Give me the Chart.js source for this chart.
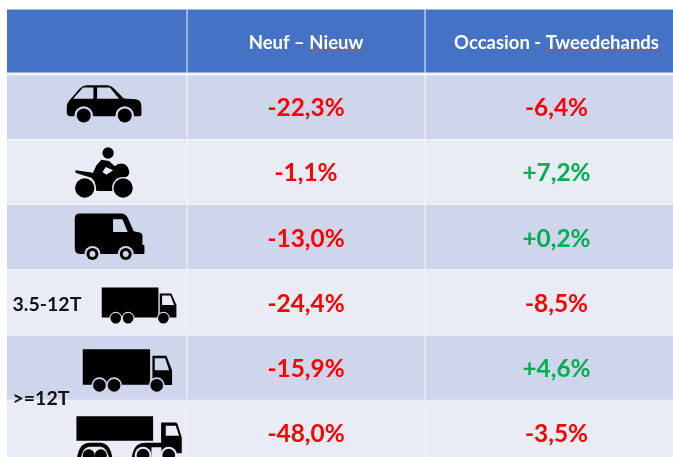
<!DOCTYPE html>
<html><head><meta charset="utf-8">
<style>html,body{margin:0;padding:0;background:#fff;overflow:hidden}#w{width:673px;height:457px;position:relative}canvas{filter:blur(.45px)}</style>
<script src="https://cdn.jsdelivr.net/npm/chart.js@4"></script></head>
<body><div id="w"><canvas id="c"></canvas></div>
<script>
const vehicles = ['car','moto','van','truckSmall','truckMedium','truckLarge'];
const columnHeaders = ['Neuf – Nieuw','Occasion - Tweedehands'];
const headerUnderlined = ['Nieuw','Tweedehands'];
const neuf = [-22.3,-1.1,-13.0,-24.4,-15.9,-48.0];
const occasion = [-6.4,7.2,0.2,-8.5,4.6,-3.5];
const weightLabels = [{text:'3.5-12T',row:4.04},{text:'>=12T',row:5.47}];

// table layout (not data)
const columnEdges = [0,180.5,418.5,681.5];
const X_LEFT = 6.5;
const HEAD='#4472C4', DARK='#CFD5EA', LIGHT='#E9EBF5', SEP='#F4F5FA', RED='#FF0000', GREEN='#00B050';
const FONT='Lato, "Open Sans", sans-serif';
const rowColor = r => r===0 ? HEAD : (r%2 ? DARK : LIGHT);
const rows = [0,...vehicles.map((_,i)=>i+1)];
const columnData = c => rows.map(r=>({x:[columnEdges[c],columnEdges[c+1]],y:r}));

// icons: glyph paths in 3x units; o = glyph anchor that sits on the cell centre
const icons = {
 car:{o:[291,320],paths:[
  ['k','M201 322 C201 310 206 303 214 295 L240 265 Q250 255 262 255 L322 255 Q333 255 342 264 L372 295 L408 297 Q425 299 425 318 L425 343 Q425 348 420 348 L212 348 Q201 348 201 336 Z'],
  ['b','M220 296 L250 262 L281 262 L281 296 Z M292 262 L330 262 L358 296 L292 296 Z'],
  ['r',[252,346,28],[375,346,28]],['w',[252,346,21],[375,346,21]]]},
 moto:{o:[111,95],paths:[
  ['k','M47 90 L100 97 L110 75 L125 58 L148 62 L165 78 Q180 64 195 72 Q210 82 208 100 Q204 115 170 115 L160 152 L110 152 L105 125 L95 112 L70 105 L47 97 Z'],
  ['b','M128 95 L138 80 L160 90 L140 103 Z'],
  ['r',[75,143,33],[190,143,33]],['w',[75,143,29],[190,143,29],[145,38,17]]]},
 van:{o:[111,96],paths:[
  ['k','M45 40 Q45 25 60 25 L185 25 Q198 25 205 40 L222 78 L240 82 Q248 84 248 90 L248 118 L254 120 L254 143 Q254 146 250 146 L60 146 Q45 146 45 130 Z'],
  ['b','M160 42 L188 42 L204 80 L160 80 Z'],
  ['r',[98,146,24],[198,146,24]],['w',[98,146,18],[198,146,18]],['r',[98,146,9],[198,146,9]]]},
 truckSmall:{o:[291,127],paths:[
  ['k','M306 82 L476 82 L476 172 L306 172 Z M476 166 L480 166 L480 100 L515 100 L530 135 L530 172 L476 172 Z'],
  ['b','M487 106 L512 106 L523 135 L487 135 Z'],
  ['r',[348,174,19],[385,174,19],[491,174,19]],['w',[348,174,16],[385,174,16],[491,174,16]]]},
 truckMedium:{o:[291,322],paths:[
  ['k','M249 267 L451 267 L451 373 L249 373 Z M451 367 L458 367 L458 286 L500 286 L517 330 L517 374 L451 374 Z'],
  ['b','M465 294 L496 294 L508 330 L465 330 Z'],
  ['r',[299,375,24],[343,375,24],[471,375,24]],['w',[299,375,19],[343,375,19],[471,375,19]]]},
 truckLarge:{o:[81,83],paths:[
  ['k','M20 33 L250 33 L250 107 L20 107 Z'],
  ['k','M22 158 Q28 113 60 113 L92 113 Q120 113 128 158 Z'],
  ['b','M33 158 Q40 125 60 125 L92 125 Q110 125 118 158 Z'],
  ['k','M186 158 Q192 113 225 113 L274 113 L274 52 L318 52 Q322 52 324 58 L336 98 L336 144 L318 144 L318 158 L275 158 L275 126 L245 126 L245 158 Z'],
  ['b','M288 62 L318 62 L328 92 L288 92 Z'],
  ['r',[220,150,25],[297,150,25]],
  ['w',[57,150,18],[93,150,18],[220,150,19],[297,150,19]]]}
};

function drawIcon(ctx,icon,cx,cy,bg){
  ctx.save();ctx.translate(cx,cy);ctx.scale(1/3,1/3);ctx.translate(-icon.o[0],-icon.o[1]);
  for(const p of icon.paths){
    const t=p[0];
    if(t==='k'||t==='b'){ctx.fillStyle=t==='k'?'#000':bg;ctx.fill(new Path2D(p[1]));}
    else{ctx.fillStyle=t==='w'?'#000':bg;
      for(const c of p.slice(1)){ctx.beginPath();ctx.arc(c[0],c[1],c[2],0,Math.PI*2);ctx.fill();}}
  }
  ctx.restore();
}
const fmt = v => (v>0?'+':'-')+Math.abs(v).toFixed(1).replace('.',',')+'%';

const tablePlugin={id:'table',afterDatasetsDraw(chart){
  const {ctx,scales:{x,y},chartArea:a}=chart;
  const colCentre=c=>x.getPixelForValue((columnEdges[c]+columnEdges[c+1])/2);
  ctx.save();
  ctx.beginPath();ctx.rect(a.left,0,a.right-a.left,chart.height);ctx.clip();
  // rule under the header
  ctx.fillStyle=SEP;ctx.fillRect(a.left,y.getPixelForValue(.5)-1.7,a.right-a.left,2.8);
  // header
  ctx.textBaseline='middle';ctx.textAlign='left';
  ctx.font='700 18.5px '+FONT;
  columnHeaders.forEach((h,i)=>{
    const cx=colCentre(i+1),w=ctx.measureText(h).width,sx=cx-w/2,py=y.getPixelForValue(0)+1;
    ctx.fillStyle='#fff';ctx.fillText(h,sx,py);
    const pre=h.slice(0,h.indexOf(headerUnderlined[i]));
    let ux=sx+ctx.measureText(pre).width;const ue=sx+w;
    ctx.strokeStyle='#C0504D';ctx.lineWidth=.9;ctx.beginPath();
    let k=0;ctx.moveTo(ux,py+8);
    while(ux<ue){ux+=1.5;k++;ctx.lineTo(ux,py+8+(k%2?.8:-.2));}
    ctx.stroke();
  });
  // values
  ctx.textAlign='center';ctx.font='700 24.4px '+FONT;
  [neuf,occasion].forEach((s,c)=>s.forEach((v,r)=>{
    ctx.fillStyle=v<0?RED:GREEN;
    ctx.fillText(fmt(v),colCentre(c+1),y.getPixelForValue(r+1)+1.5);
  }));
  // icons
  vehicles.forEach((k,r)=>drawIcon(ctx,icons[k],colCentre(0),y.getPixelForValue(r+1),rowColor(r+1)));
  // weight labels
  ctx.fillStyle='#111';ctx.textAlign='left';ctx.font='700 19.5px '+FONT;
  weightLabels.forEach(l=>ctx.fillText(l.text,x.getPixelForValue(6),y.getPixelForValue(l.row)));
  ctx.restore();
}};

new Chart(document.getElementById('c'),{
  type:'bar',
  data:{datasets:[0,1,2].map(c=>({
    data:columnData(c),grouped:false,
    backgroundColor:ctx=>rowColor(ctx.raw.y),
    borderColor:SEP,borderWidth:.8,borderSkipped:false,
    barPercentage:1,categoryPercentage:1
  }))},
  options:{
    indexAxis:'y',responsive:true,maintainAspectRatio:false,animation:false,
    layout:{padding:{left:X_LEFT,top:9,right:0,bottom:0}},
    plugins:{legend:{display:false},tooltip:{enabled:false}},
    scales:{
      x:{type:'linear',display:false,min:0,max:666.5},
      y:{type:'linear',display:false,offset:false,reverse:true,min:-.5,max:6.37,
         afterBuildTicks:s=>{s.ticks=rows.map(v=>({value:v}));},grid:{display:false}}
    }
  },
  plugins:[tablePlugin]
});
</script></body></html>
